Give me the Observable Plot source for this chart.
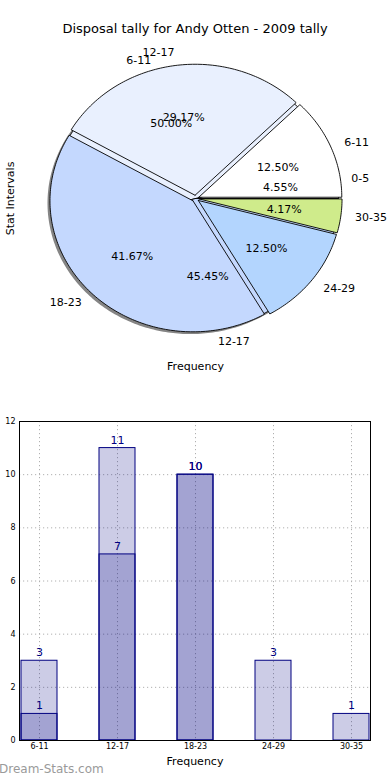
<!DOCTYPE html>
<html>
<head>
<meta charset="utf-8">
<script src="https://cdn.jsdelivr.net/npm/d3@7"></script>
<script src="https://cdn.jsdelivr.net/npm/@observablehq/plot@0.6"></script>
<style>
  html, body { margin: 0; padding: 0; background: #fff; }
  #wrap { position: relative; width: 390px; height: 780px; overflow: hidden; font-family: "DejaVu Sans", sans-serif; }
  #title { position: absolute; top: 21px; left: 0; width: 390px; text-align: center; font-size: 13px; color: #000; }
  #pie { position: absolute; top: 0; left: 0; }
  #bars { position: absolute; top: 400px; left: 0; }
  #mark { position: absolute; left: -1px; top: 762px; font-size: 12px; color: #9a9a9a; }
</style>
</head>
<body>
<div id="wrap">
  <div id="pie"></div>
  <div id="title">Disposal tally for Andy Otten - 2009 tally</div>
  <div id="bars"></div>
  <div id="mark">Dream-Stats.com</div>
</div>
<script>
// ---- data ----
const pieOuterLabels = ["6-11", "12-17", "18-23", "24-29", "30-35"];
const pieOuterValues = [3, 7, 10, 3, 1];
const pieOuterColors = ["#ffffff", "#e9f0fe", "#c4d8fe", "#b3d5fe", "#cfeb8b"];

const pieUnderLabels = ["0-5", "6-11", "12-17"];
const pieUnderValues = [1, 11, 10];
const pieUnderColors = ["#ffffff", "#e9f0fe", "#c4d8fe"];

const barCategories = ["6-11", "12-17", "18-23", "24-29", "30-35"];
const barLight = [3, 11, 10, 3, 1];
const barDarkCategories = ["6-11", "12-17", "18-23"];
const barDark = [1, 7, 10];
const yTicks = [0, 2, 4, 6, 8, 10, 12];

// ---- pie geometry (unit circle, stretched by the scales) ----
const CX = 195, CY = 198, RX = 143, RY = 131, H = 390;

function buildPie(values, labels, colors, explode, offX, offY, prefix) {
  const total = d3.sum(values);
  const poly = [], lab = [], pct = [];
  let a = 0;
  values.forEach((v, i) => {
    const a0 = a, a1 = a + v / total * 360; a = a1;
    const mid = (a0 + a1) / 2 * Math.PI / 180;
    const ox = explode * Math.cos(mid) + offX, oy = explode * Math.sin(mid) + offY;
    const id = prefix + i;
    poly.push({x: ox, y: oy, id, color: colors[i]});
    const n = Math.max(2, Math.ceil(a1 - a0));
    for (let k = 0; k <= n; k++) {
      const t = (a0 + (a1 - a0) * k / n) * Math.PI / 180;
      poly.push({x: ox + Math.cos(t), y: oy + Math.sin(t), id, color: colors[i]});
    }
    poly.push({x: ox, y: oy, id, color: colors[i]});
    lab.push({x: ox + 1.1 * Math.cos(mid), y: oy + 1.1 * Math.sin(mid), text: labels[i], anchor: Math.cos(mid) >= 0 ? "start" : "end"});
    pct.push({x: ox + 0.6 * Math.cos(mid), y: oy + 0.6 * Math.sin(mid), text: (v / total * 100).toFixed(2) + "%"});
  });
  return {poly, lab, pct};
}

const under = buildPie(pieUnderValues, pieUnderLabels, pieUnderColors, 0, 0, 0, "u");
const shadow = buildPie([d3.sum(pieUnderValues)], [""], ["#333"], 0, -0.035, -0.035, "s");
const outer = buildPie(pieOuterValues, pieOuterLabels, pieOuterColors, 0.025, 0, 0, "o");

const labStart = [...under.lab, ...outer.lab].filter(d => d.anchor === "start");
const labEnd = [...under.lab, ...outer.lab].filter(d => d.anchor === "end");

const piePlot = Plot.plot({
  width: 390, height: H, margin: 0,
  x: {domain: [-CX / RX, (390 - CX) / RX], axis: null},
  y: {domain: [(CY - H) / RY, CY / RY], axis: null},
  style: {fontFamily: "DejaVu Sans, sans-serif", background: "transparent"},
  marks: [
    Plot.line(shadow.poly, {x: "x", y: "y", z: "id", fill: "#333", fillOpacity: 0.6, stroke: "none"}),
    Plot.line(under.poly, {x: "x", y: "y", z: "id", fill: d => d.color, stroke: "#000", strokeWidth: 0.9}),
    Plot.line(outer.poly, {x: "x", y: "y", z: "id", fill: d => d.color, stroke: "#000", strokeWidth: 0.9}),
    Plot.text(labStart, {x: "x", y: "y", text: "text", textAnchor: "start", fontSize: 11, fill: "#000"}),
    Plot.text(labEnd, {x: "x", y: "y", text: "text", textAnchor: "end", fontSize: 11, fill: "#000"}),
    Plot.text([...under.pct, ...outer.pct], {x: "x", y: "y", text: "text", fontSize: 11, fill: "#000"}),
    Plot.text(["Stat Intervals"], {x: (10 - CX) / RX, y: 0, text: d => d, rotate: -90, fontSize: 11, fill: "#000"}),
    Plot.text(["Frequency"], {x: 0, y: (CY - 366) / RY, text: d => d, fontSize: 11, fill: "#000"})
  ]
});
document.getElementById("pie").appendChild(piePlot);

// ---- bar chart ----
const lightRows = barCategories.map((c, i) => ({cat: c, v: barLight[i]}));
const darkRows = barDarkCategories.map((c, i) => ({cat: c, v: barDark[i]}));

const barPlot = Plot.plot({
  width: 390, height: 375,
  marginTop: 21, marginBottom: 35, marginLeft: 19, marginRight: 20,
  x: {type: "band", domain: barCategories, paddingInner: 0.543, paddingOuter: 0, align: 0.5, tickSize: 0, tickPadding: 3, label: null},
  y: {domain: [0, 12], ticks: yTicks, tickSize: 0, tickPadding: 4, label: null},
  style: {fontFamily: "DejaVu Sans, sans-serif", fontSize: "8px", color: "#000", background: "transparent"},
  marks: [
    Plot.ruleY(yTicks, {stroke: "#b0b0b0", strokeDasharray: "1.2,2.8", strokeWidth: 1}),
    Plot.ruleX(barCategories, {x: d => d, stroke: "#b0b0b0", strokeDasharray: "1.2,2.8", strokeWidth: 1}),
    Plot.barY(lightRows, {x: "cat", y: "v", fill: "navy", fillOpacity: 0.2, stroke: "navy", strokeWidth: 1}),
    Plot.barY(darkRows, {x: "cat", y: "v", fill: "navy", fillOpacity: 0.2, stroke: "navy", strokeWidth: 1}),
    Plot.text(lightRows, {x: "cat", y: "v", text: d => String(d.v), dy: -8, fontSize: 11, fill: "navy"}),
    Plot.text(darkRows, {x: "cat", y: "v", text: d => String(d.v), dy: -8, fontSize: 11, fill: "navy"}),
    Plot.frame({stroke: "#000", strokeWidth: 1}),
    Plot.text(["Frequency"], {frameAnchor: "bottom", lineAnchor: "middle", text: d => d, dy: 21, fontSize: 11, fill: "#000"})
  ]
});
document.getElementById("bars").appendChild(barPlot);
</script>
</body>
</html>
